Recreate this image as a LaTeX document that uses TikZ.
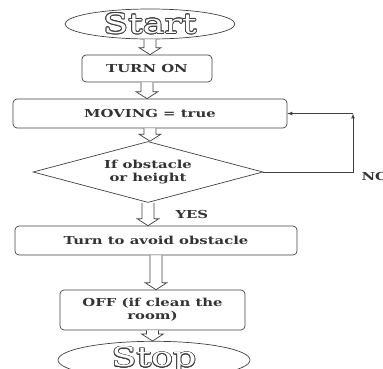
\documentclass[tikz,border=0pt]{standalone}
\usepackage{fontspec}
\setmainfont{DejaVu Serif}[FakeStretch=1.35]
\usepackage{contour}
\usetikzlibrary{arrows}
\usetikzlibrary{calc}
\usetikzlibrary{shapes.geometric}
\definecolor{mline}{gray}{0.25}
\definecolor{mtext}{gray}{0.2}
\contourlength{0.8pt}
\tikzset{box/.style = {draw=mline, line width=0.7pt, rounded corners=4pt, inner sep=0pt, align=center,
                       text=mtext, font=\bfseries\fontsize{11}{13}\selectfont}}
\tikzset{term/.style = {draw=mline, line width=0.7pt, ellipse, inner sep=0pt,
                        font=\fontsize{27}{27}\selectfont}}
\tikzset{decision/.style = {draw=mline, line width=0.7pt, diamond, aspect=3.8, inner sep=0pt, align=center,
                            text=mtext, font=\bfseries\fontsize{11}{13}\selectfont}}
\tikzset{tag/.style = {anchor=west, text=mtext, font=\bfseries\fontsize{11}{13}\selectfont}}
\newcommand{\hollow}[2]{%
  \draw [mline, line width=0.7pt, fill=white] let \p1 = (#1.south), \p2 = (#1.south |- #2.north) in
    (\x1-6pt, \y1) -- (\x1-6pt, \y2+7pt) -- (\x1-11pt, \y2+7pt) -- (\x2, \y2)
    -- (\x1+11pt, \y2+7pt) -- (\x1+6pt, \y2+7pt) -- (\x1+6pt, \y1);}
\newcommand{\hollowtext}[1]{\contour{mline}{\textcolor{white}{#1}}}

\begin{document}
\begin{tikzpicture}[x=1pt, y=-1pt]
    \useasboundingbox (0, 0) rectangle (383, 368);

    \node [term, minimum width=170, minimum height=28] (start) at (150, 24) {\hollowtext{Start}};
    \node [box, minimum width=130, minimum height=27] (on) at (147, 68.5) {TURN ON};
    \node [box, minimum width=274, minimum height=29] (mov) at (150, 113.5) {MOVING = true};
    \node [decision, minimum width=230, minimum height=61] (dia) at (148, 172) {If obstacle\\or height};
    \node [box, minimum width=282, minimum height=29] (avoid) at (156, 240.5) {Turn to avoid obstacle};
    \node [box, minimum width=185, minimum height=40] (off) at (152.5, 310) {OFF (if clean the\\room)};
    \node [term, minimum width=192, minimum height=32] (stop) at (154, 360) {\hollowtext{Stop}};

    \hollow{start}{on}
    \hollow{on}{mov}
    \hollow{mov}{dia}
    \hollow{dia}{avoid}
    \hollow{avoid}{off}
    \hollow{off}{stop}

    \coordinate (bend) at (353, 113.5);
    \draw [mline, line width=0.7pt, -latex] (dia.east) -| (bend);
    \draw [mline, line width=0.7pt, -latex] (bend) -- (mov.east);

    \node [tag] (no) at (358, 176) {NO};
    \node [tag] (yes) at (172, 214) {YES};
  \end{tikzpicture}
\end{document}
